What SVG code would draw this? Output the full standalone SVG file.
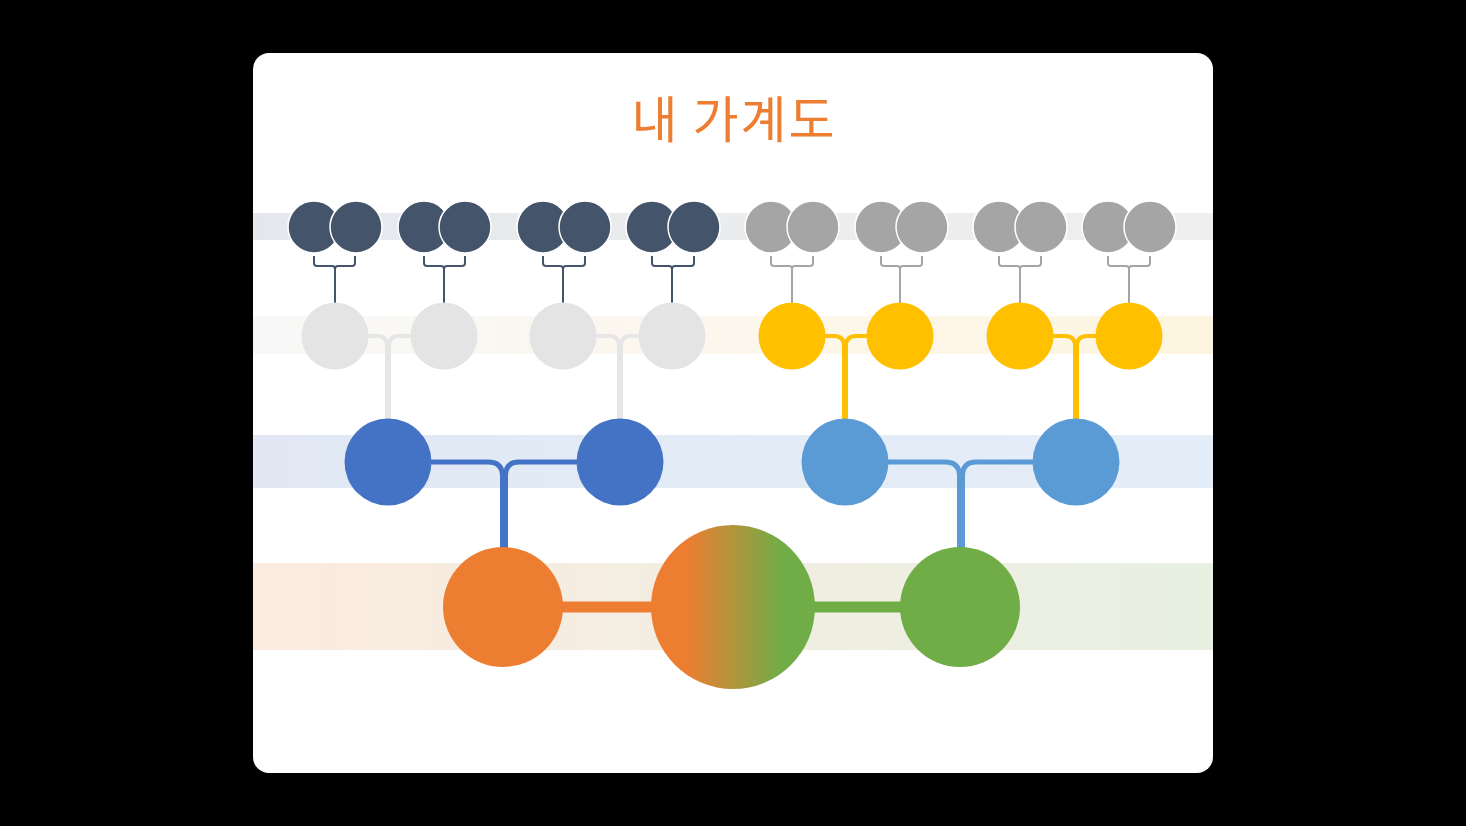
<svg xmlns="http://www.w3.org/2000/svg" width="1466" height="826" viewBox="0 0 1466 826">
  <defs>
    <linearGradient id="band1" x1="0" y1="0" x2="1" y2="0">
      <stop offset="0" stop-color="#E4E8ED"/>
      <stop offset="0.5" stop-color="#EBECEE"/>
      <stop offset="1" stop-color="#EFEFEF"/>
    </linearGradient>
    <linearGradient id="band2" x1="0" y1="0" x2="1" y2="0">
      <stop offset="0" stop-color="#F8F8F8"/>
      <stop offset="0.45" stop-color="#FCF7EE"/>
      <stop offset="1" stop-color="#FEF5E0"/>
    </linearGradient>
    <linearGradient id="band3" x1="0" y1="0" x2="1" y2="0">
      <stop offset="0" stop-color="#E1E8F4"/>
      <stop offset="1" stop-color="#E4EEF8"/>
    </linearGradient>
    <linearGradient id="band4" x1="0" y1="0" x2="1" y2="0">
      <stop offset="0" stop-color="#FBEADF"/>
      <stop offset="0.5" stop-color="#F2EEE2"/>
      <stop offset="1" stop-color="#E7F0E1"/>
    </linearGradient>
    <linearGradient id="mix" x1="0" y1="0" x2="1" y2="0">
      <stop offset="0.22" stop-color="#ED7D31"/>
      <stop offset="0.8" stop-color="#70AD47"/>
    </linearGradient>
    <style>
      .title { font-family: "Noto Sans CJK KR", "Noto Sans", sans-serif; font-weight: 400; font-size: 50px; letter-spacing: 2px; fill: #ED7D31; }
      .dark { fill: #44546A; stroke: #FFFFFF; stroke-width: 1.5; }
      .grey { fill: #A5A5A5; stroke: #FFFFFF; stroke-width: 1.5; }
      .light { fill: #E4E4E4; }
      .yellow { fill: #FFC000; }
      .blue { fill: #4472C4; }
      .lblue { fill: #5B9BD5; }
      .orange { fill: #ED7D31; }
      .green { fill: #70AD47; }
      .mix { fill: url(#mix); }
      .c { fill: none; stroke-linecap: butt; stroke-linejoin: round; }
      .br-dark { stroke: #44546A; stroke-width: 2; }
      .br-grey { stroke: #A5A5A5; stroke-width: 2; }
      .c2-light { stroke: #E6E6E6; stroke-width: 4; }
      .c2-yellow { stroke: #FFC000; stroke-width: 4; }
      .c3-blue { stroke: #4472C4; stroke-width: 5; }
      .c3-lblue { stroke: #5B9BD5; stroke-width: 5; }
      .bar-o { stroke: #ED7D31; stroke-width: 11; }
      .bar-g { stroke: #70AD47; stroke-width: 11; }
    </style>
  </defs>

  <rect x="0" y="0" width="1466" height="826" fill="#000000"/>
  <rect x="253" y="53" width="960" height="720" rx="16" ry="16" fill="#FFFFFF"/>

  <g id="bands">
    <rect x="253" y="213" width="960" height="27" fill="url(#band1)"/>
    <rect x="253" y="316" width="960" height="38" fill="url(#band2)"/>
    <rect x="253" y="435" width="960" height="53" fill="url(#band3)"/>
    <rect x="253" y="563" width="960" height="87" fill="url(#band4)"/>
  </g>

  <text class="title" x="734" y="138" text-anchor="middle">내 가계도</text>

  <g id="connectors">
    <g class="c br-dark">
      <path d="M314,256 V263 Q314,266 317,266 H332 Q335,266 335,269 V303 M355,256 V263 Q355,266 352,266 H338 Q335,266 335,269"/>
      <path d="M424,256 V263 Q424,266 427,266 H441 Q444,266 444,269 V303 M465,256 V263 Q465,266 462,266 H447 Q444,266 444,269"/>
      <path d="M543,256 V263 Q543,266 546,266 H560 Q563,266 563,269 V303 M585,256 V263 Q585,266 582,266 H566 Q563,266 563,269"/>
      <path d="M652,256 V263 Q652,266 655,266 H669 Q672,266 672,269 V303 M694,256 V263 Q694,266 691,266 H675 Q672,266 672,269"/>
    </g>
    <g class="c br-grey">
      <path d="M771,256 V263 Q771,266 774,266 H789 Q792,266 792,269 V303 M813,256 V263 Q813,266 810,266 H795 Q792,266 792,269"/>
      <path d="M881,256 V263 Q881,266 884,266 H897 Q900,266 900,269 V303 M922,256 V263 Q922,266 919,266 H903 Q900,266 900,269"/>
      <path d="M999,256 V263 Q999,266 1002,266 H1017 Q1020,266 1020,269 V303 M1041,256 V263 Q1041,266 1038,266 H1023 Q1020,266 1020,269"/>
      <path d="M1108,256 V263 Q1108,266 1111,266 H1126 Q1129,266 1129,269 V303 M1150,256 V263 Q1150,266 1147,266 H1132 Q1129,266 1129,269"/>
    </g>
    <g class="c c2-light">
      <path d="M366,336 H377 Q387,336 387,346 V420 M412,336 H399 Q389,336 389,346 V420"/>
      <path d="M594,336 H609 Q619,336 619,346 V420 M641,336 H631 Q621,336 621,346 V420"/>
    </g>
    <g class="c c2-yellow">
      <path d="M823,336 H834 Q844,336 844,346 V420 M869,336 H856 Q846,336 846,346 V420"/>
      <path d="M1051,336 H1065 Q1075,336 1075,346 V420 M1098,336 H1087 Q1077,336 1077,346 V420"/>
    </g>
    <g class="c c3-blue">
      <path d="M429,462 H488 Q502.5,462 502.5,476 V548 M578,462 H519 Q505.5,462 505.5,476 V548"/>
    </g>
    <g class="c c3-lblue">
      <path d="M886,462 H945 Q959.5,462 959.5,476 V548 M1035,462 H976 Q962.5,462 962.5,476 V548"/>
    </g>
    <line class="c bar-o" x1="560" y1="607" x2="656" y2="607"/>
    <line class="c bar-g" x1="810" y1="607" x2="904" y2="607"/>
  </g>

  <g id="gen1">
    <g id="p1"><circle class="dark" cx="314" cy="227" r="26"/><circle class="dark" cx="356" cy="227" r="26"/></g>
    <g id="p2"><circle class="dark" cx="424" cy="227" r="26"/><circle class="dark" cx="465" cy="227" r="26"/></g>
    <g id="p3"><circle class="dark" cx="543" cy="227" r="26"/><circle class="dark" cx="585" cy="227" r="26"/></g>
    <g id="p4"><circle class="dark" cx="652" cy="227" r="26"/><circle class="dark" cx="694" cy="227" r="26"/></g>
    <g id="p5"><circle class="grey" cx="771" cy="227" r="26"/><circle class="grey" cx="813" cy="227" r="26"/></g>
    <g id="p6"><circle class="grey" cx="881" cy="227" r="26"/><circle class="grey" cx="922" cy="227" r="26"/></g>
    <g id="p7"><circle class="grey" cx="999" cy="227" r="26"/><circle class="grey" cx="1041" cy="227" r="26"/></g>
    <g id="p8"><circle class="grey" cx="1108" cy="227" r="26"/><circle class="grey" cx="1150" cy="227" r="26"/></g>
  </g>

  <g id="gen2">
    <g id="g2a"><circle class="light" cx="335" cy="336" r="33.5"/></g>
    <g id="g2b"><circle class="light" cx="444" cy="336" r="33.5"/></g>
    <g id="g2c"><circle class="light" cx="563" cy="336" r="33.5"/></g>
    <g id="g2d"><circle class="light" cx="672" cy="336" r="33.5"/></g>
    <g id="g2e"><circle class="yellow" cx="792" cy="336" r="33.5"/></g>
    <g id="g2f"><circle class="yellow" cx="900" cy="336" r="33.5"/></g>
    <g id="g2g"><circle class="yellow" cx="1020" cy="336" r="33.5"/></g>
    <g id="g2h"><circle class="yellow" cx="1129" cy="336" r="33.5"/></g>
  </g>

  <g id="gen3">
    <g id="g3a"><circle class="blue" cx="388" cy="462" r="43.5"/></g>
    <g id="g3b"><circle class="blue" cx="620" cy="462" r="43.5"/></g>
    <g id="g3c"><circle class="lblue" cx="845" cy="462" r="43.5"/></g>
    <g id="g3d"><circle class="lblue" cx="1076" cy="462" r="43.5"/></g>
  </g>

  <g id="gen4">
    <g id="father"><circle class="orange" cx="503" cy="607" r="60"/></g>
    <g id="me"><circle class="mix" cx="733" cy="607" r="82"/></g>
    <g id="mother"><circle class="green" cx="960" cy="607" r="60"/></g>
  </g>
</svg>
